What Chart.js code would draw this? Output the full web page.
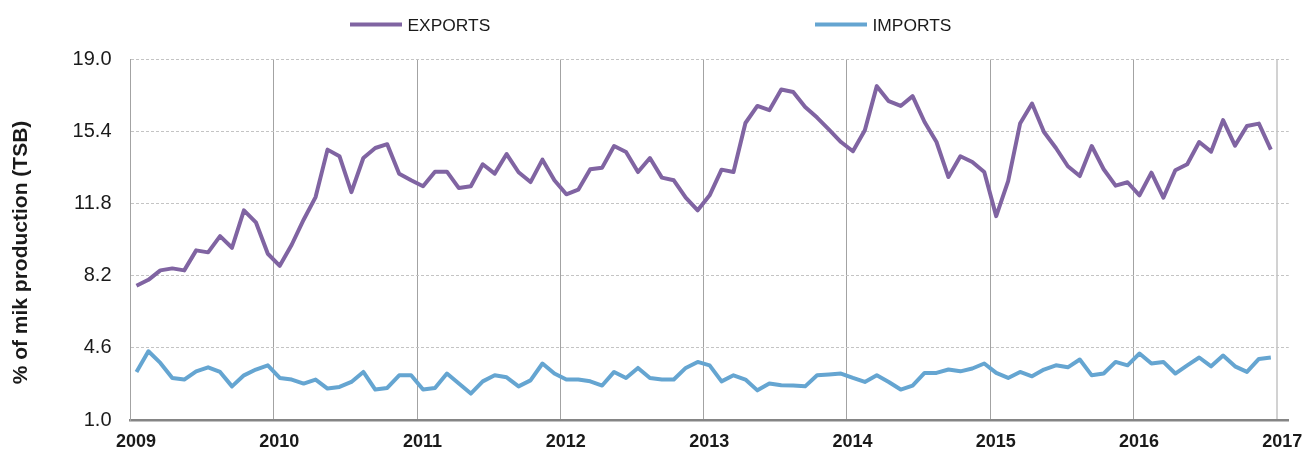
<!DOCTYPE html>
<html>
<head>
<meta charset="utf-8">
<script src="https://cdn.jsdelivr.net/npm/chart.js@4.4.0/dist/chart.umd.min.js"></script>
<style>
  html, body { margin: 0; padding: 0; background: #fff; }
  #wrap { width: 1308px; height: 451px; }
</style>
</head>
<body>
<div id="wrap"><canvas id="milkChart"></canvas></div>
<script>
// ---------------- Daten ----------------
const yearLabels = ['2009', '2010', '2011', '2012', '2013', '2014', '2015', '2016', '2017'];
const yTicks = [1.0, 4.6, 8.2, 11.8, 15.4, 19.0];

// monthly values, Jan 2009 .. Dec 2016
const exportsValues = [
  7.7, 8.0, 8.47, 8.57, 8.47, 9.47, 9.37, 10.18, 9.6, 11.47, 10.87, 9.3,
  8.7, 9.75, 11.0, 12.13, 14.5, 14.17, 12.38, 14.08, 14.58, 14.77, 13.3, 12.97,
  12.67, 13.4, 13.4, 12.58, 12.67, 13.77, 13.3, 14.28, 13.37, 12.88, 14.0, 12.97,
  12.27, 12.5, 13.52, 13.6, 14.68, 14.38, 13.38, 14.08, 13.1, 12.97, 12.1, 11.47,
  12.22, 13.5, 13.38, 15.83, 16.68, 16.47, 17.5, 17.38, 16.63, 16.1, 15.5, 14.88,
  14.42, 15.47, 17.67, 16.92, 16.68, 17.17, 15.88, 14.88, 13.13, 14.17, 13.88, 13.38,
  11.18, 12.93, 15.8, 16.8, 15.38, 14.58, 13.67, 13.18, 14.68, 13.52, 12.7, 12.87,
  12.22, 13.35, 12.1, 13.47, 13.77, 14.88, 14.4, 15.97, 14.7, 15.68, 15.8, 14.5
];
const importsValues = [
  3.4, 4.43, 3.85, 3.1, 3.02, 3.43, 3.63, 3.4, 2.68, 3.23, 3.52, 3.73,
  3.1, 3.02, 2.82, 3.02, 2.57, 2.65, 2.9, 3.4, 2.52, 2.6, 3.23, 3.23,
  2.52, 2.6, 3.32, 2.82, 2.32, 2.93, 3.23, 3.13, 2.68, 2.98, 3.82, 3.32,
  3.02, 3.02, 2.93, 2.72, 3.4, 3.1, 3.6, 3.1, 3.02, 3.02, 3.6, 3.9,
  3.73, 2.93, 3.23, 3.02, 2.48, 2.82, 2.73, 2.72, 2.68, 3.23, 3.27, 3.32,
  3.1, 2.9, 3.23, 2.9, 2.52, 2.72, 3.35, 3.35, 3.52, 3.43, 3.57, 3.82,
  3.35, 3.1, 3.4, 3.18, 3.52, 3.73, 3.63, 4.02, 3.23, 3.32, 3.9, 3.73,
  4.32, 3.82, 3.9, 3.32, 3.73, 4.12, 3.68, 4.22, 3.68, 3.4, 4.05, 4.12
];

// Punkte in die Monatsmitte setzen
const toPoints = arr => arr.map((v, i) => ({ x: i + 0.5, y: v }));

const FONT = "'Liberation Sans', Arial, sans-serif";

// ---------------- Legende oben ----------------
const topLegend = {
  id: 'topLegend',
  afterDraw(chart) {
    const ctx = chart.ctx;
    const startX = [350, 815];
    ctx.save();
    chart.data.datasets.forEach((ds, i) => {
      const x = startX[i];
      ctx.strokeStyle = ds.borderColor;
      ctx.lineWidth = 4;
      ctx.beginPath();
      ctx.moveTo(x, 24.5);
      ctx.lineTo(x + 52, 24.5);
      ctx.stroke();
      ctx.fillStyle = '#1a1a1a';
      ctx.font = '17.4px ' + FONT;
      ctx.textBaseline = 'alphabetic';
      ctx.textAlign = 'left';
      ctx.fillText(ds.label, x + 57.5, 31);
    });
    ctx.restore();
  }
};

// ---------------- Y-Achsentitel ----------------
const yTitle = {
  id: 'yTitle',
  afterDraw(chart) {
    const ctx = chart.ctx;
    ctx.save();
    ctx.translate(26.5, 252.5);
    ctx.rotate(-Math.PI / 2);
    ctx.font = 'bold 21px ' + FONT;
    ctx.fillStyle = '#1a1a1a';
    ctx.textAlign = 'center';
    ctx.textBaseline = 'alphabetic';
    ctx.fillText('% of mik production (TSB)', 0, 0);
    ctx.restore();
  }
};

new Chart(document.getElementById('milkChart'), {
  type: 'line',
  data: {
    datasets: [
      {
        label: 'EXPORTS',
        data: toPoints(exportsValues),
        borderColor: '#8064a2',
        backgroundColor: '#8064a2',
        borderWidth: 4,
        pointRadius: 0,
        tension: 0,
        borderJoinStyle: 'round'
      },
      {
        label: 'IMPORTS',
        data: toPoints(importsValues),
        borderColor: '#65a5d1',
        backgroundColor: '#65a5d1',
        borderWidth: 4,
        pointRadius: 0,
        tension: 0,
        borderJoinStyle: 'round'
      }
    ]
  },
  options: {
    responsive: true,
    maintainAspectRatio: false,
    animation: false,
    layout: { padding: { top: 59.5, right: 17, left: 0, bottom: 0 } },
    plugins: {
      legend: { display: false },
      tooltip: { enabled: false }
    },
    scales: {
      x: {
        type: 'linear',
        min: 0,
        max: 97,
        afterBuildTicks: s => { s.ticks = yearLabels.map((y, i) => ({ value: i * 12 })); },
        afterFit: s => { s.height = 30.5; },
        ticks: {
          callback: v => yearLabels[Math.round(v / 12)],
          font: { family: FONT, size: 18, weight: 'bold' },
          color: '#1a1a1a',
          padding: 11,
          labelOffset: 5.5,
          maxRotation: 0,
          autoSkip: false
        },
        grid: {
          drawTicks: false,
          color: c => (c.tick && c.tick.value === 96 ? '#d2d2d2' : '#a3a3a3'),
          lineWidth: c => (c.tick && c.tick.value === 96 ? 2 : 1)
        },
        border: { display: true, color: '#858585', width: 2.5 }
      },
      y: {
        min: 1,
        max: 19,
        afterBuildTicks: s => { s.ticks = yTicks.map(v => ({ value: v })); },
        afterFit: s => { s.width = 130.5; },
        ticks: {
          callback: v => Number(v).toFixed(1),
          font: { family: FONT, size: 20 },
          color: '#1a1a1a',
          padding: 19
        },
        grid: {
          drawTicks: false,
          color: '#c4c4c4',
          lineWidth: 1
        },
        border: { display: true, color: '#a3a3a3', width: 1, dash: [3, 2] }
      }
    }
  },
  plugins: [topLegend, yTitle]
});
</script>
</body>
</html>
